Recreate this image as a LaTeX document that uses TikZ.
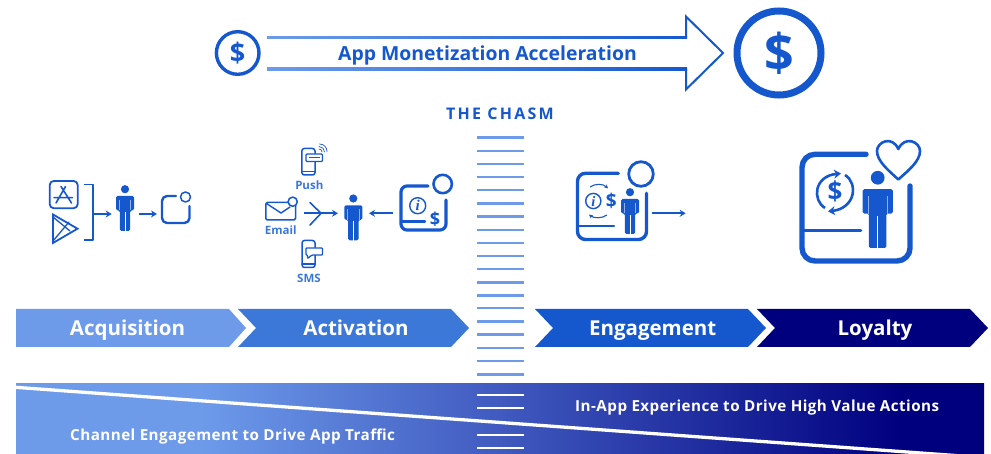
\documentclass[tikz,border=0pt]{standalone}
\usepackage{fontspec}
\setmainfont{Open Sans}
\newfontfamily\medsp[LetterSpace=14]{Open Sans}
\newfontfamily\barf[LetterSpace=3]{Open Sans}
\newfontfamily\serf{Liberation Serif}
\usetikzlibrary{arrows.meta,shadings}
\definecolor{cA}{HTML}{6D9BEA}
\definecolor{cB}{HTML}{3C78D8}
\definecolor{cC}{HTML}{1558CE}
\definecolor{cD}{HTML}{00007F}
\definecolor{cM}{HTML}{4561C4}
\definecolor{cG}{HTML}{8FB0EA}
\pgfdeclarehorizontalshading{barshade}{100bp}{color(0bp)=(cA);color(25bp)=(cA);color(34.5bp)=(cA);color(48.4bp)=(cM);color(70.7bp)=(cD);color(100bp)=(cD)}
\pgfdeclarehorizontalshading{lineshade}{100bp}{color(0bp)=(cA);color(25bp)=(cA);color(75bp)=(cC);color(100bp)=(cC)}
\tikzset{
  x=1pt,y=-1pt,
  chev/.style={draw=none,fill=#1},
  chevtext/.style={text=white,anchor=base,font=\bfseries\fontsize{20.5}{22}\selectfont,inner sep=0pt},
  smalllabel/.style={text=cB,anchor=base,font=\bfseries\fontsize{11.5}{12}\selectfont,inner sep=0pt},
  bartext/.style={text=white,anchor=base west,font=\barf\bfseries\fontsize{15.2}{16}\selectfont,inner sep=0pt},
  icon/.style={draw=cC,line width=#1,line cap=round,line join=round},
  icon/.default=1.6,
  flow/.style={draw=cC,line width=1.6,-{Stealth[length=6pt,width=7pt]}},
  rung/.style={draw=#1,line width=2.4},
  dollar/.style={text=cC,inner sep=0pt,font=\bfseries\fontsize{#1}{#1}\selectfont},
  personicon/.pic={
    \fill[cC] (0,4.2) circle (4.1);
    \fill[cC,rounded corners=1.5] (-9,11) -- (9,11) -- (9,25.5) -- (5.2,25.5) -- (5.2,46) -- (-5.2,46) -- (-5.2,25.5) -- (-9,25.5) -- cycle;
    \draw[cG,line width=.5] (5.6,15) -- (5.6,25.5) (-5.6,15) -- (-5.6,25.5);
    \draw[white,line width=.6] (0,27) -- (0,46.5);
  }
}
\begin{document}
\begin{tikzpicture}
\useasboundingbox (0,0) rectangle (991,454);
% top arrow
\shade[shading=lineshade] (267,36.3) rectangle (687.2,38.8);
\shade[shading=lineshade] (267,67.8) rectangle (687.2,70.3);
\draw[cC,line width=2,line join=miter] (686,37.5) -- (686,16.5) -- (723,53) -- (686,89.5) -- (686,69);
\node[text=cC,anchor=base,font=\bfseries\fontsize{19.4}{22}\selectfont,inner sep=0pt] (monet) at (487.5,61) {App Monetization Acceleration};
\draw[cC,line width=3.4] (237.7,53) circle (21.3);
\node[dollar=27] (d1) at (237.7,53.5) {\$};
\draw[cC,line width=7] (779,53) circle (42);
\node[dollar=52] (d2) at (779,53.5) {\$};
\node[text=cC,anchor=base,font=\medsp\bfseries\fontsize{16}{17}\selectfont,inner sep=0pt] (chasm) at (500,120) {THE CHASM};
% chevrons
\path[chev=cA] (16,309) -- (229,309) -- (246,328) -- (229,347) -- (16,347) -- cycle;
\path[chev=cB] (238,309) -- (451,309) -- (469,328) -- (451,347) -- (238,347) -- (256,328) -- cycle;
\path[chev=cC] (535,309) -- (748,309) -- (766,328) -- (748,347) -- (535,347) -- (553,328) -- cycle;
\path[chev=cD] (757,309) -- (970,309) -- (988,328) -- (970,347) -- (757,347) -- (775,328) -- cycle;
\node[chevtext] (acq) at (127.5,335.7) {Acquisition};
\node[chevtext] (act) at (356,335.7) {Activation};
\node[chevtext] (eng) at (652.7,335.7) {Engagement};
\node[chevtext] (loy) at (875,335.7) {Loyalty};
% gradient bar
\shade[shading=barshade] (16,383) rectangle (984,454);
\begin{scope}
\clip (0,0) rectangle (991,454);
\fill[white] (16,385.7) -- (16,389) -- (960,457.5) -- (960,454.2) -- cycle;
\end{scope}
% chasm rungs
\foreach \y in {137.7,150.85,164,177.15,190.3,203.45,216.6,229.75,242.9,256.05,269.2,282.35,295.5,308.3,321.5,334.7,348,361,374.5}
  \draw[rung=cA] (477,\y) -- (524,\y);
\foreach \y in {395,408,435,448}
  \draw[rung=white] (477,\y) -- (524,\y);
\node[bartext] (inapp) at (575,411) {In-App Experience to Drive High Value Actions};
\node[bartext] (chan) at (70,440) {Channel Engagement to Drive App Traffic};
% acquisition icons
\draw[icon=1.8,rounded corners=4] (49.7,181) rectangle (77.7,208.2);
\draw[icon=1.6] (65.5,186.5) -- (56,203) (61,186.5) -- (71.5,203) (54,197.7) -- (72.5,197.7);
\draw[icon=1.8,line join=miter] (53,214.5) -- (77.5,228.7) -- (53,243) -- cycle;
\draw[icon=1.3] (53,217) -- (70,231) (53,241) -- (69,222);
\draw[icon=1.6,line cap=butt] (84,184.5) -- (93,184.5) -- (93,240) -- (84,240);
\coordinate (brk) at (93,214);
\coordinate (pA) at (111.7,214);
\coordinate (pB) at (139,214);
\coordinate (boxA) at (157,214);
\path (125,185) pic {personicon};
\draw[flow] (brk) -- (pA);
\draw[flow] (pB) -- (boxA);
\draw[icon=2.4,rounded corners=5] (176,196) -- (162,196) -- (162,223) -- (189.5,223) -- (189.5,206);
\draw[icon=1.5] (185.5,197) circle (5);
% activation icons
\draw[icon=1.5,rounded corners=2.5] (301.8,148.5) rectangle (315,175);
\draw[icon=1.2] (302,171.5) -- (315,171.5);
\draw[icon=1.4,fill=white,rounded corners=1] (306,154) rectangle (322.5,161.5);
\draw[icon=1.1,line cap=butt] (309,157.7) -- (319.5,157.7);
\draw[icon=.7] (322,152) arc (0:-90:3) (324.5,152) arc (0:-90:5.5) (327,151.5) arc (0:-90:7.5);
\node[smalllabel] (push) at (309.3,189.5) {Push};
\draw[icon=1.5,fill=white,rounded corners=1.5] (265.8,202.5) rectangle (295.5,220);
\draw[icon=1.4] (266.5,203.5) -- (281,213) -- (290,207);
\draw[icon=1.5,fill=white] (292.7,201.7) circle (4.6);
\node[smalllabel] (email) at (280.7,235) {Email};
\draw[icon=1.5,rounded corners=2.5] (302,240.5) rectangle (315,267.5);
\draw[icon=1.2] (302,264) -- (315,264);
\draw[icon=1.3,fill=white,rounded corners=.8] (306,248) -- (322.5,248) -- (322.5,255) -- (312,255) -- (307.5,258.5) -- (307.5,255) -- (306,255) -- cycle;
\node[smalllabel] (sms) at (309,282.7) {SMS};
\path (353.3,194.3) pic {personicon};
\coordinate (mergeS) at (304,213.3);
\coordinate (mergeE) at (338,213.3);
\draw[flow] (mergeS) -- (mergeE);
\draw[icon=1.6] (310,202.5) -- (321,213.3) -- (310,225);
\coordinate (infoS) at (392.7,213.3);
\coordinate (infoE) at (369,213.3);
\draw[flow] (infoS) -- (infoE);
\draw[icon=3.2,rounded corners=6] (428,186) -- (401,186) -- (401,230) -- (446,230) -- (446,200);
\draw[icon=2.4] (401,221.7) -- (425,221.7);
\draw[icon=2.6] (442.7,184) circle (9.2);
\draw[icon=1.4] (417.7,205.7) circle (8);
\node[text=cC,inner sep=0pt,font=\serf\itshape\bfseries\fontsize{15}{15}\selectfont] (i1) at (417.7,205.7) {i};
\node[dollar=18] (d3) at (435,219) {\$};
% engagement icons
\draw[icon=3.4,rounded corners=8] (618.3,173.3) -- (577.5,173.3) -- (577.5,239.5) -- (646.5,239.5) -- (646.5,193.3);
\draw[icon=2.6] (578,226) -- (614,226);
\draw[icon=2.8] (641,174) circle (12.3);
\path (630,188) pic {personicon};
\draw[icon=1.4] (593.3,201) circle (7.6);
\node[text=cC,inner sep=0pt,font=\serf\itshape\bfseries\fontsize{14.5}{15}\selectfont] (i2) at (593.3,201) {i};
\node[dollar=19] (d4) at (611.2,201) {\$};
\draw[cC,line width=1.1,-{Stealth[length=4pt,width=4pt]}] (590,187) .. controls (595,183.5) and (603,183.5) .. (608,188.5);
\draw[cC,line width=1.1,-{Stealth[length=4pt,width=4pt]}] (607,215) .. controls (602,218.5) and (594,218.5) .. (589,214.5);
\coordinate (engS) at (652.3,213.3);
\coordinate (engE) at (685.7,213.3);
\draw[flow] (engS) -- (engE);
% loyalty icons
\draw[icon=5.4,rounded corners=13] (866,154.3) -- (802,154.3) -- (802,261) -- (910,261) -- (910,186);
\draw[icon=3.4] (803,230.7) -- (860.7,230.7);
\path (877.7,170.7) pic[scale=1.68] {personicon};
\draw[icon=2.6] (898.3,179.5) .. controls (888,170) and (877,161) .. (877,151) .. controls (877,142) and (892,135) .. (898.3,149) .. controls (905,135) and (920,142) .. (920,151) .. controls (920,161) and (909,170) .. (898.3,179.5) -- cycle;
\draw[cC,line width=2.6,-{Stealth[length=7pt,width=9pt]}] (825,208) .. controls (812,200) and (814,176) .. (841,173.5);
\draw[cC,line width=2.6,-{Stealth[length=7pt,width=9pt]}] (845,175) .. controls (858,183) and (856,208) .. (828,211.5);
\node[dollar=26] (d5) at (835,191.7) {\$};
\end{tikzpicture}
\end{document}
